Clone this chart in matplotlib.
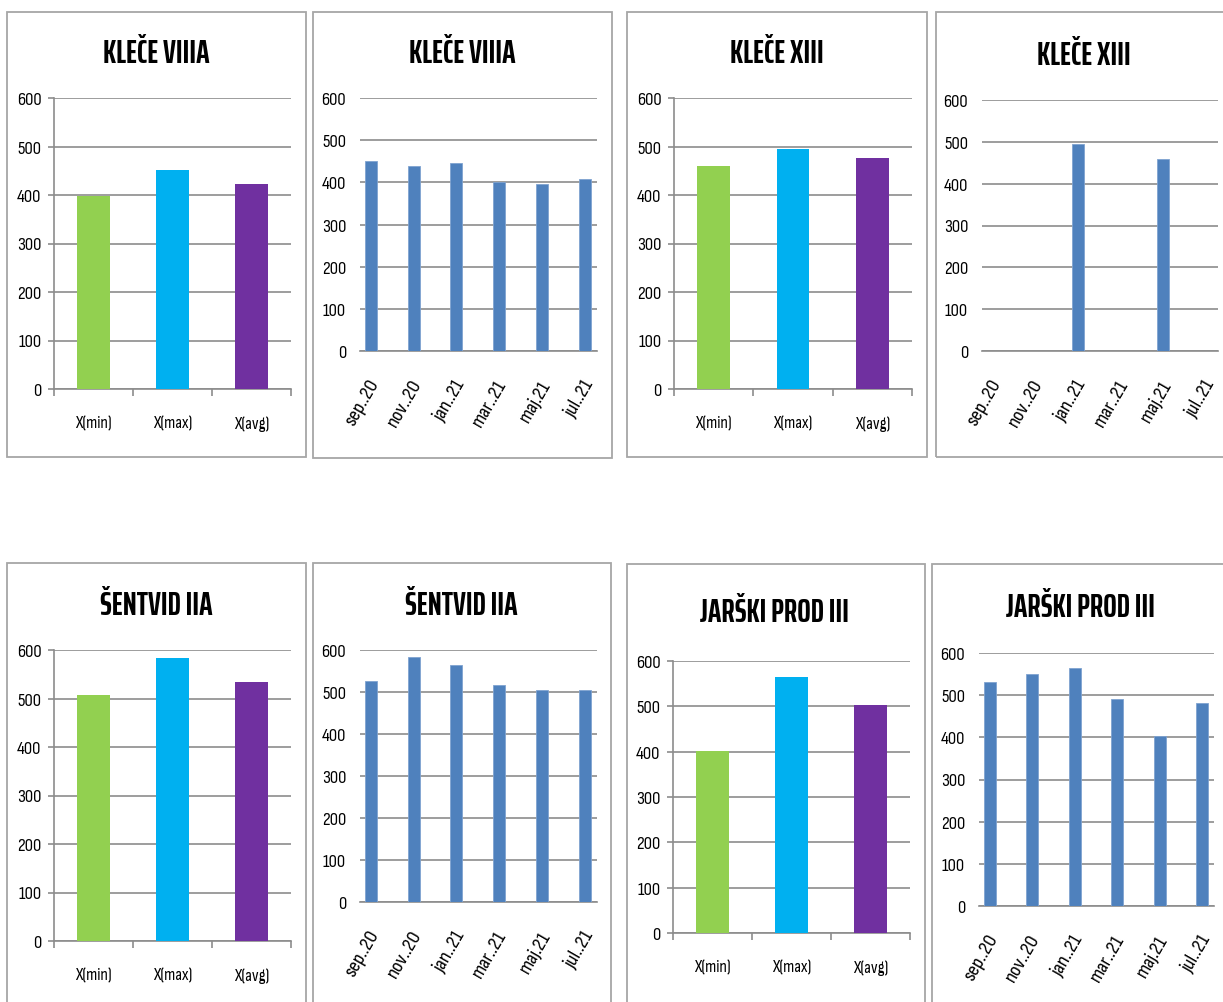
import numpy as np
import matplotlib
matplotlib.use('Agg')
import matplotlib.pyplot as plt
from matplotlib.patches import Rectangle
from matplotlib.ticker import FixedLocator

plt.rcParams['font.family'] = ['Sofia Sans Condensed', 'DejaVu Sans']
TITLE_FONT = ['Saira ExtraCondensed', 'DejaVu Sans']

# categories
stat_labels = ['X(min)', 'X(max)', 'X(avg)']
months = ['sep..20', 'nov..20', 'jan..21', 'mar..21', 'maj.21', 'jul..21']

# measured values per site
klece8_stats = [398, 452, 423]
klece8_months = [450, 439, 446, 400, 395, 409]

klece13_stats = [460, 495, 477]
klece13_months = [np.nan, np.nan, 496, np.nan, 458, np.nan]

sentvid_stats = [507, 583, 533]
sentvid_months = [527, 583, 564, 516, 505, 505]

jarski_stats = [402, 565, 503]
jarski_months = [531, 550, 565, 490, 403, 482]

stat_colors = ['#92D050', '#00B0F0', '#7030A0']
month_color = '#4F81BD'
grid_c = '#8C8C8C'
box_c = '#A6A6A6'

W, H = 1223, 1003
fig = plt.figure(figsize=(W / 100, H / 100), dpi=100)


def px_rect(x0, x1, y_top, y_bot):
    return [x0 / W, 1 - y_bot / H, (x1 - x0) / W, (y_bot - y_top) / H]


def frame(x0, y0, x1, y1):
    r = Rectangle((x0 / W, 1 - y1 / H), (x1 - x0) / W, (y1 - y0) / H,
                  transform=fig.transFigure, fill=False, edgecolor=box_c,
                  linewidth=1.3, clip_on=False)
    fig.patches.append(r)


def title(text, xc, baseline):
    fig.text(xc / W, 1 - baseline / H, text, ha='center', va='baseline',
             fontsize=23, fontweight='bold', color='black', family=TITLE_FONT)


def base_axes(rect):
    ax = fig.add_axes(rect)
    ax.set_ylim(0, 600)
    ax.set_yticks(range(0, 601, 100))
    ax.yaxis.grid(True, color=grid_c, linewidth=1.2)
    ax.set_axisbelow(True)
    for s in ['top', 'right']:
        ax.spines[s].set_visible(False)
    ax.spines['bottom'].set_color(grid_c)
    ax.spines['bottom'].set_linewidth(1.2)
    ax.tick_params(axis='y', labelsize=13.5, colors='black')
    return ax


def stats_panel(rect, vals):
    ax = base_axes(rect)
    x = np.arange(len(stat_labels))
    ax.bar(x, vals, width=0.41, color=stat_colors, zorder=3)
    ax.set_xlim(-0.5, 2.5)
    ax.spines['left'].set_color(grid_c)
    ax.spines['left'].set_linewidth(1.2)
    ax.tick_params(axis='y', length=4, width=1.2, color=grid_c, pad=5)
    ax.set_xticks(x)
    ax.set_xticklabels(stat_labels, fontsize=12.5)
    ax.tick_params(axis='x', length=0, pad=19)
    ax.xaxis.set_minor_locator(FixedLocator([-0.5, 0.5, 1.5, 2.5]))
    ax.tick_params(axis='x', which='minor', length=5, width=1.2, color=grid_c)
    return ax


def month_panel(rect, vals):
    ax = base_axes(rect)
    x = np.arange(len(months))
    ax.bar(x, vals, width=0.28, color=month_color, edgecolor='#7FA3D0',
           linewidth=0.6, zorder=3)
    ax.set_xlim(-0.25, 5.28)
    ax.spines['left'].set_visible(False)
    ax.tick_params(axis='y', length=0, pad=10)
    ax.set_xticks(x + 0.08)
    ax.set_xticklabels(months, fontsize=15, rotation=60, ha='right',
                       va='center', rotation_mode='anchor')
    ax.tick_params(axis='x', length=0, pad=21)
    return ax


# top row
frame(7, 13, 306, 458)
stats_panel(px_rect(54, 291, 99, 390), klece8_stats)
title('KLEČE VIIIA', 156, 63)

frame(313, 13, 612, 459)
month_panel(px_rect(360, 597, 99, 352), klece8_months)
title('KLEČE VIIIA', 462, 63)

frame(627, 13, 927, 458)
stats_panel(px_rect(674, 912, 99, 390), klece13_stats)
title('KLEČE XIII', 777, 63)

frame(936, 13, 1240, 458)
month_panel(px_rect(982, 1218, 101, 352), klece13_months)
title('KLEČE XIII', 1084, 65)

# bottom row
frame(7, 564, 306, 1020)
stats_panel(px_rect(54, 291, 651, 942), sentvid_stats)
title('ŠENTVID IIA', 156, 615)

frame(313, 564, 611, 1020)
month_panel(px_rect(360, 597, 651, 903), sentvid_months)
title('ŠENTVID IIA', 461, 615)

frame(627, 565, 925, 1020)
stats_panel(px_rect(673, 910, 662, 934), jarski_stats)
title('JARŠKI PROD III', 775, 622)

frame(932, 565, 1240, 1020)
month_panel(px_rect(979, 1214, 654, 907), jarski_months)
title('JARŠKI PROD III', 1080, 617)

fig.savefig('out.png', dpi=100)
